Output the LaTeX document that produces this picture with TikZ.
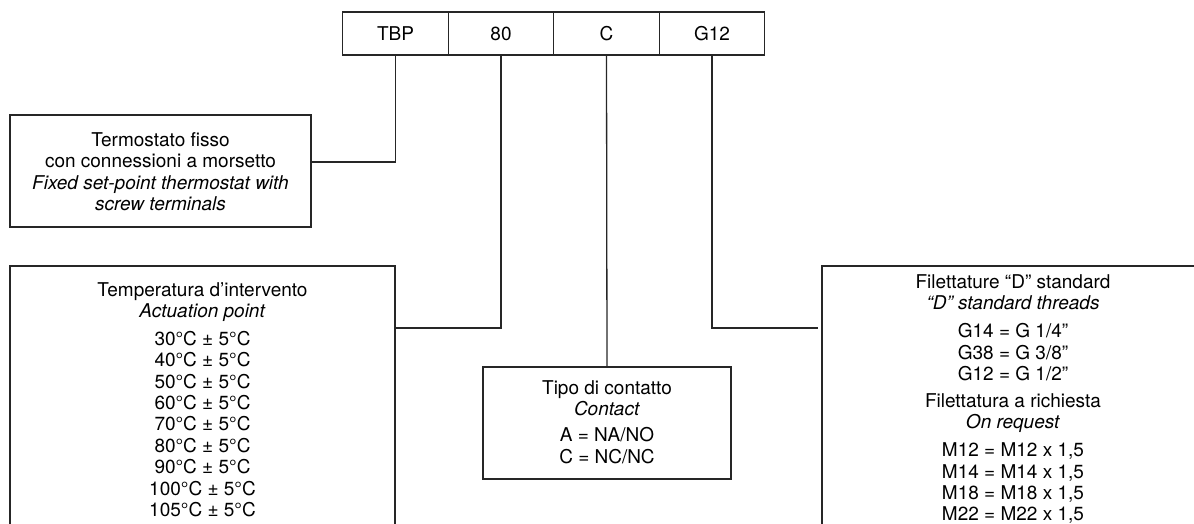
\documentclass[tikz,border=0pt]{standalone}
\usepackage{fontspec}
\setmainfont{TeX Gyre Heros}
\usepackage{tikz}
\usetikzlibrary{positioning}

\begin{document}
\begin{tikzpicture}[x=0.5pt, y=-0.5pt, line width=0.65pt, draw=black!85,
  cell/.style={draw, outer sep=0pt, inner sep=0pt, minimum width=52.75pt, minimum height=21.5pt,
               font=\fontsize{9.5pt}{10.7pt}\selectfont},
  box/.style={draw, outer sep=0pt, inner sep=0pt, anchor=north west},
  txt/.style={align=center, inner sep=0pt, font=\fontsize{9.5pt}{10.7pt}\selectfont}]
  \useasboundingbox (0,0) rectangle (1194,524);
  \clip (0,0) rectangle (1194,524);
  % code cells
  \node[cell] (tbp) at (395.5,33.5) {TBP};
  \node[cell, right=0pt of tbp] (c80) {80};
  \node[cell, right=0pt of c80] (cc) {C};
  \node[cell, right=0pt of cc] (g12) {G12};
  % description boxes
  \node[box, minimum width=150.5pt, minimum height=56pt] (fixed) at (10,115) {};
  \node[box, minimum width=192.5pt, minimum height=137pt] (temp) at (10,266) {};
  \node[box, minimum width=124pt, minimum height=56pt] (contact) at (483,367) {};
  \node[box, minimum width=194pt, minimum height=137pt] (thread) at (822,266) {};
  \node[txt, below=8.5pt of fixed.north] (fixedtxt) {Termostato fisso\\con connessioni a morsetto\\
    \textit{Fixed set-point thermostat with}\\\textit{screw terminals}};
  \node[txt, below=7.8pt of temp.north] (temptxt) {Temperatura d’intervento\\\textit{Actuation point}\\[3.2pt]
    30°C ± 5°C\\40°C ± 5°C\\50°C ± 5°C\\60°C ± 5°C\\70°C ± 5°C\\80°C ± 5°C\\90°C ± 5°C\\
    100°C ± 5°C\\105°C ± 5°C};
  \node[txt, below=6.5pt of contact.north] (contacttxt) {Tipo di contatto\\\textit{Contact}\\[2.3pt]
    A = NA/NO\\C = NC/NC};
  \node[txt, anchor=north] (threadtxt) at (1013,274) {Filettature “D” standard\\\textit{“D” standard threads}\\[3.2pt]
    G14 = G 1/4”\\G38 = G 3/8”\\G12 = G 1/2”\\[2.8pt]
    Filettatura a richiesta\\\textit{On request}\\[3.2pt]
    M12 = M12 x 1,5\\M14 = M14 x 1,5\\M18 = M18 x 1,5\\M22 = M22 x 1,5};
  % leader lines
  \draw (tbp.south) |- ([yshift=4.5pt]fixed.east);
  \draw (c80.south) |- ([yshift=-31pt]temp.north east);
  \draw (cc.south) -- (contact.north);
  \draw (g12.south) |- ([xshift=-2pt, yshift=-31pt]thread.north west);
\end{tikzpicture}
\end{document}
